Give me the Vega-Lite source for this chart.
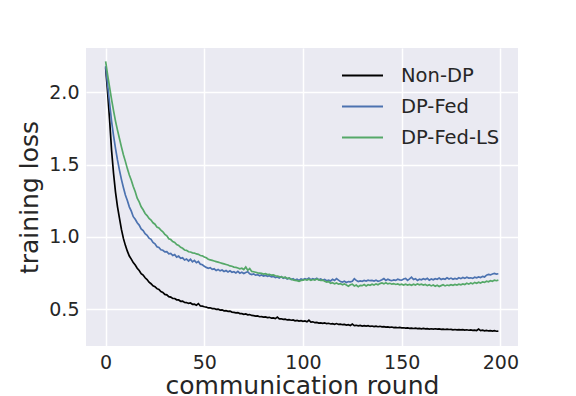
{
"$schema": "https://vega.github.io/schema/vega-lite/v6.json",
"width": 432, "height": 298,
"autosize": {"type": "none"},
"padding": {"left": 86, "top": 48, "right": 58, "bottom": 50},
"background": "white",
"config": {
  "font": "DejaVu Sans",
  "view": {"fill": "#EAEAF2", "stroke": null},
  "axis": {"grid": true, "gridColor": "white", "gridWidth": 1.5, "domain": false, "ticks": false,
    "labelFontSize": 19, "labelColor": "#262626", "labelPadding": 7, "labelFont": "DejaVu Sans",
    "titleFontSize": 25, "titleColor": "#262626", "titleFontWeight": "normal", "titleFont": "DejaVu Sans"}
},
"data": {"values": [
{"r":0,"Non-DP":2.170,"DP-Fed":2.180,"DP-Fed-LS":2.212},
{"r":1,"Non-DP":2.000,"DP-Fed":2.050,"DP-Fed-LS":2.120},
{"r":2,"Non-DP":1.810,"DP-Fed":1.925,"DP-Fed-LS":2.035},
{"r":3,"Non-DP":1.600,"DP-Fed":1.800,"DP-Fed-LS":1.950},
{"r":4,"Non-DP":1.440,"DP-Fed":1.700,"DP-Fed-LS":1.872},
{"r":5,"Non-DP":1.310,"DP-Fed":1.612,"DP-Fed-LS":1.800},
{"r":6,"Non-DP":1.210,"DP-Fed":1.532,"DP-Fed-LS":1.738},
{"r":7,"Non-DP":1.130,"DP-Fed":1.462,"DP-Fed-LS":1.680},
{"r":8,"Non-DP":1.052,"DP-Fed":1.398,"DP-Fed-LS":1.622},
{"r":9,"Non-DP":0.990,"DP-Fed":1.342,"DP-Fed-LS":1.568},
{"r":10,"Non-DP":0.942,"DP-Fed":1.290,"DP-Fed-LS":1.522},
{"r":11,"Non-DP":0.902,"DP-Fed":1.252,"DP-Fed-LS":1.472},
{"r":12,"Non-DP":0.868,"DP-Fed":1.208,"DP-Fed-LS":1.428},
{"r":13,"Non-DP":0.847,"DP-Fed":1.178,"DP-Fed-LS":1.392},
{"r":14,"Non-DP":0.823,"DP-Fed":1.140,"DP-Fed-LS":1.348},
{"r":15,"Non-DP":0.806,"DP-Fed":1.122,"DP-Fed-LS":1.312},
{"r":16,"Non-DP":0.784,"DP-Fed":1.098,"DP-Fed-LS":1.268},
{"r":17,"Non-DP":0.768,"DP-Fed":1.082,"DP-Fed-LS":1.242},
{"r":18,"Non-DP":0.747,"DP-Fed":1.056,"DP-Fed-LS":1.208},
{"r":19,"Non-DP":0.737,"DP-Fed":1.044,"DP-Fed-LS":1.188},
{"r":20,"Non-DP":0.718,"DP-Fed":1.022,"DP-Fed-LS":1.162},
{"r":21,"Non-DP":0.706,"DP-Fed":1.012,"DP-Fed-LS":1.148},
{"r":22,"Non-DP":0.688,"DP-Fed":0.992,"DP-Fed-LS":1.128},
{"r":23,"Non-DP":0.677,"DP-Fed":0.984,"DP-Fed-LS":1.117},
{"r":24,"Non-DP":0.663,"DP-Fed":0.962,"DP-Fed-LS":1.098},
{"r":25,"Non-DP":0.657,"DP-Fed":0.953,"DP-Fed-LS":1.088},
{"r":26,"Non-DP":0.643,"DP-Fed":0.932,"DP-Fed-LS":1.068},
{"r":27,"Non-DP":0.637,"DP-Fed":0.928,"DP-Fed-LS":1.062},
{"r":28,"Non-DP":0.623,"DP-Fed":0.912,"DP-Fed-LS":1.048},
{"r":29,"Non-DP":0.617,"DP-Fed":0.908,"DP-Fed-LS":1.036},
{"r":30,"Non-DP":0.603,"DP-Fed":0.897,"DP-Fed-LS":1.018},
{"r":31,"Non-DP":0.600,"DP-Fed":0.898,"DP-Fed-LS":1.008},
{"r":32,"Non-DP":0.588,"DP-Fed":0.884,"DP-Fed-LS":0.988},
{"r":33,"Non-DP":0.585,"DP-Fed":0.886,"DP-Fed-LS":0.982},
{"r":34,"Non-DP":0.576,"DP-Fed":0.872,"DP-Fed-LS":0.968},
{"r":35,"Non-DP":0.575,"DP-Fed":0.878,"DP-Fed-LS":0.962},
{"r":36,"Non-DP":0.566,"DP-Fed":0.861,"DP-Fed-LS":0.948},
{"r":37,"Non-DP":0.565,"DP-Fed":0.868,"DP-Fed-LS":0.942},
{"r":38,"Non-DP":0.556,"DP-Fed":0.852,"DP-Fed-LS":0.928},
{"r":39,"Non-DP":0.557,"DP-Fed":0.856,"DP-Fed-LS":0.922},
{"r":40,"Non-DP":0.548,"DP-Fed":0.841,"DP-Fed-LS":0.910},
{"r":41,"Non-DP":0.547,"DP-Fed":0.848,"DP-Fed-LS":0.908},
{"r":42,"Non-DP":0.541,"DP-Fed":0.834,"DP-Fed-LS":0.898},
{"r":43,"Non-DP":0.544,"DP-Fed":0.846,"DP-Fed-LS":0.896},
{"r":44,"Non-DP":0.535,"DP-Fed":0.828,"DP-Fed-LS":0.890},
{"r":45,"Non-DP":0.536,"DP-Fed":0.838,"DP-Fed-LS":0.889},
{"r":46,"Non-DP":0.529,"DP-Fed":0.822,"DP-Fed-LS":0.883},
{"r":47,"Non-DP":0.540,"DP-Fed":0.831,"DP-Fed-LS":0.880},
{"r":48,"Non-DP":0.523,"DP-Fed":0.812,"DP-Fed-LS":0.872},
{"r":49,"Non-DP":0.522,"DP-Fed":0.808,"DP-Fed-LS":0.870},
{"r":50,"Non-DP":0.518,"DP-Fed":0.798,"DP-Fed-LS":0.862},
{"r":51,"Non-DP":0.516,"DP-Fed":0.790,"DP-Fed-LS":0.856},
{"r":52,"Non-DP":0.510,"DP-Fed":0.784,"DP-Fed-LS":0.846},
{"r":53,"Non-DP":0.511,"DP-Fed":0.788,"DP-Fed-LS":0.842},
{"r":54,"Non-DP":0.505,"DP-Fed":0.776,"DP-Fed-LS":0.838},
{"r":55,"Non-DP":0.506,"DP-Fed":0.780,"DP-Fed-LS":0.834},
{"r":56,"Non-DP":0.500,"DP-Fed":0.768,"DP-Fed-LS":0.830},
{"r":57,"Non-DP":0.502,"DP-Fed":0.776,"DP-Fed-LS":0.826},
{"r":58,"Non-DP":0.495,"DP-Fed":0.766,"DP-Fed-LS":0.822},
{"r":59,"Non-DP":0.497,"DP-Fed":0.772,"DP-Fed-LS":0.818},
{"r":60,"Non-DP":0.490,"DP-Fed":0.762,"DP-Fed-LS":0.814},
{"r":61,"Non-DP":0.491,"DP-Fed":0.768,"DP-Fed-LS":0.810},
{"r":62,"Non-DP":0.486,"DP-Fed":0.758,"DP-Fed-LS":0.806},
{"r":63,"Non-DP":0.488,"DP-Fed":0.766,"DP-Fed-LS":0.800},
{"r":64,"Non-DP":0.481,"DP-Fed":0.756,"DP-Fed-LS":0.798},
{"r":65,"Non-DP":0.479,"DP-Fed":0.760,"DP-Fed-LS":0.792},
{"r":66,"Non-DP":0.476,"DP-Fed":0.752,"DP-Fed-LS":0.790},
{"r":67,"Non-DP":0.478,"DP-Fed":0.762,"DP-Fed-LS":0.786},
{"r":68,"Non-DP":0.471,"DP-Fed":0.750,"DP-Fed-LS":0.780},
{"r":69,"Non-DP":0.470,"DP-Fed":0.756,"DP-Fed-LS":0.784},
{"r":70,"Non-DP":0.466,"DP-Fed":0.748,"DP-Fed-LS":0.775},
{"r":71,"Non-DP":0.468,"DP-Fed":0.755,"DP-Fed-LS":0.792},
{"r":72,"Non-DP":0.462,"DP-Fed":0.760,"DP-Fed-LS":0.770},
{"r":73,"Non-DP":0.464,"DP-Fed":0.746,"DP-Fed-LS":0.782},
{"r":74,"Non-DP":0.458,"DP-Fed":0.740,"DP-Fed-LS":0.762},
{"r":75,"Non-DP":0.457,"DP-Fed":0.744,"DP-Fed-LS":0.760},
{"r":76,"Non-DP":0.453,"DP-Fed":0.736,"DP-Fed-LS":0.756},
{"r":77,"Non-DP":0.455,"DP-Fed":0.740,"DP-Fed-LS":0.752},
{"r":78,"Non-DP":0.449,"DP-Fed":0.732,"DP-Fed-LS":0.750},
{"r":79,"Non-DP":0.450,"DP-Fed":0.738,"DP-Fed-LS":0.748},
{"r":80,"Non-DP":0.446,"DP-Fed":0.730,"DP-Fed-LS":0.744},
{"r":81,"Non-DP":0.448,"DP-Fed":0.735,"DP-Fed-LS":0.746},
{"r":82,"Non-DP":0.443,"DP-Fed":0.728,"DP-Fed-LS":0.740},
{"r":83,"Non-DP":0.445,"DP-Fed":0.732,"DP-Fed-LS":0.742},
{"r":84,"Non-DP":0.439,"DP-Fed":0.724,"DP-Fed-LS":0.736},
{"r":85,"Non-DP":0.441,"DP-Fed":0.728,"DP-Fed-LS":0.738},
{"r":86,"Non-DP":0.436,"DP-Fed":0.720,"DP-Fed-LS":0.732},
{"r":87,"Non-DP":0.446,"DP-Fed":0.724,"DP-Fed-LS":0.730},
{"r":88,"Non-DP":0.434,"DP-Fed":0.716,"DP-Fed-LS":0.726},
{"r":89,"Non-DP":0.435,"DP-Fed":0.726,"DP-Fed-LS":0.724},
{"r":90,"Non-DP":0.431,"DP-Fed":0.714,"DP-Fed-LS":0.720},
{"r":91,"Non-DP":0.432,"DP-Fed":0.720,"DP-Fed-LS":0.722},
{"r":92,"Non-DP":0.427,"DP-Fed":0.710,"DP-Fed-LS":0.714},
{"r":93,"Non-DP":0.429,"DP-Fed":0.716,"DP-Fed-LS":0.716},
{"r":94,"Non-DP":0.425,"DP-Fed":0.706,"DP-Fed-LS":0.708},
{"r":95,"Non-DP":0.427,"DP-Fed":0.712,"DP-Fed-LS":0.704},
{"r":96,"Non-DP":0.421,"DP-Fed":0.702,"DP-Fed-LS":0.700},
{"r":97,"Non-DP":0.424,"DP-Fed":0.708,"DP-Fed-LS":0.698},
{"r":98,"Non-DP":0.419,"DP-Fed":0.700,"DP-Fed-LS":0.694},
{"r":99,"Non-DP":0.422,"DP-Fed":0.710,"DP-Fed-LS":0.700},
{"r":100,"Non-DP":0.417,"DP-Fed":0.704,"DP-Fed-LS":0.702},
{"r":101,"Non-DP":0.420,"DP-Fed":0.712,"DP-Fed-LS":0.706},
{"r":102,"Non-DP":0.414,"DP-Fed":0.706,"DP-Fed-LS":0.702},
{"r":103,"Non-DP":0.425,"DP-Fed":0.716,"DP-Fed-LS":0.708},
{"r":104,"Non-DP":0.412,"DP-Fed":0.704,"DP-Fed-LS":0.700},
{"r":105,"Non-DP":0.414,"DP-Fed":0.712,"DP-Fed-LS":0.706},
{"r":106,"Non-DP":0.408,"DP-Fed":0.706,"DP-Fed-LS":0.702},
{"r":107,"Non-DP":0.410,"DP-Fed":0.714,"DP-Fed-LS":0.710},
{"r":108,"Non-DP":0.405,"DP-Fed":0.704,"DP-Fed-LS":0.704},
{"r":109,"Non-DP":0.407,"DP-Fed":0.710,"DP-Fed-LS":0.700},
{"r":110,"Non-DP":0.403,"DP-Fed":0.702,"DP-Fed-LS":0.702},
{"r":111,"Non-DP":0.406,"DP-Fed":0.706,"DP-Fed-LS":0.694},
{"r":112,"Non-DP":0.401,"DP-Fed":0.698,"DP-Fed-LS":0.688},
{"r":113,"Non-DP":0.404,"DP-Fed":0.702,"DP-Fed-LS":0.692},
{"r":114,"Non-DP":0.399,"DP-Fed":0.696,"DP-Fed-LS":0.680},
{"r":115,"Non-DP":0.401,"DP-Fed":0.708,"DP-Fed-LS":0.684},
{"r":116,"Non-DP":0.397,"DP-Fed":0.700,"DP-Fed-LS":0.676},
{"r":117,"Non-DP":0.402,"DP-Fed":0.712,"DP-Fed-LS":0.682},
{"r":118,"Non-DP":0.396,"DP-Fed":0.702,"DP-Fed-LS":0.674},
{"r":119,"Non-DP":0.398,"DP-Fed":0.692,"DP-Fed-LS":0.678},
{"r":120,"Non-DP":0.394,"DP-Fed":0.688,"DP-Fed-LS":0.670},
{"r":121,"Non-DP":0.396,"DP-Fed":0.694,"DP-Fed-LS":0.676},
{"r":122,"Non-DP":0.391,"DP-Fed":0.686,"DP-Fed-LS":0.668},
{"r":123,"Non-DP":0.394,"DP-Fed":0.692,"DP-Fed-LS":0.660},
{"r":124,"Non-DP":0.389,"DP-Fed":0.690,"DP-Fed-LS":0.670},
{"r":125,"Non-DP":0.398,"DP-Fed":0.694,"DP-Fed-LS":0.674},
{"r":126,"Non-DP":0.388,"DP-Fed":0.712,"DP-Fed-LS":0.662},
{"r":127,"Non-DP":0.390,"DP-Fed":0.700,"DP-Fed-LS":0.668},
{"r":128,"Non-DP":0.386,"DP-Fed":0.692,"DP-Fed-LS":0.656},
{"r":129,"Non-DP":0.389,"DP-Fed":0.696,"DP-Fed-LS":0.666},
{"r":130,"Non-DP":0.385,"DP-Fed":0.694,"DP-Fed-LS":0.664},
{"r":131,"Non-DP":0.388,"DP-Fed":0.700,"DP-Fed-LS":0.672},
{"r":132,"Non-DP":0.384,"DP-Fed":0.696,"DP-Fed-LS":0.662},
{"r":133,"Non-DP":0.387,"DP-Fed":0.702,"DP-Fed-LS":0.670},
{"r":134,"Non-DP":0.382,"DP-Fed":0.698,"DP-Fed-LS":0.666},
{"r":135,"Non-DP":0.385,"DP-Fed":0.700,"DP-Fed-LS":0.674},
{"r":136,"Non-DP":0.381,"DP-Fed":0.696,"DP-Fed-LS":0.668},
{"r":137,"Non-DP":0.384,"DP-Fed":0.702,"DP-Fed-LS":0.676},
{"r":138,"Non-DP":0.380,"DP-Fed":0.694,"DP-Fed-LS":0.670},
{"r":139,"Non-DP":0.383,"DP-Fed":0.698,"DP-Fed-LS":0.678},
{"r":140,"Non-DP":0.379,"DP-Fed":0.704,"DP-Fed-LS":0.682},
{"r":141,"Non-DP":0.381,"DP-Fed":0.712,"DP-Fed-LS":0.676},
{"r":142,"Non-DP":0.377,"DP-Fed":0.700,"DP-Fed-LS":0.684},
{"r":143,"Non-DP":0.379,"DP-Fed":0.708,"DP-Fed-LS":0.676},
{"r":144,"Non-DP":0.376,"DP-Fed":0.702,"DP-Fed-LS":0.680},
{"r":145,"Non-DP":0.378,"DP-Fed":0.698,"DP-Fed-LS":0.674},
{"r":146,"Non-DP":0.374,"DP-Fed":0.704,"DP-Fed-LS":0.678},
{"r":147,"Non-DP":0.376,"DP-Fed":0.700,"DP-Fed-LS":0.672},
{"r":148,"Non-DP":0.373,"DP-Fed":0.708,"DP-Fed-LS":0.676},
{"r":149,"Non-DP":0.375,"DP-Fed":0.704,"DP-Fed-LS":0.670},
{"r":150,"Non-DP":0.372,"DP-Fed":0.702,"DP-Fed-LS":0.674},
{"r":151,"Non-DP":0.373,"DP-Fed":0.710,"DP-Fed-LS":0.668},
{"r":152,"Non-DP":0.370,"DP-Fed":0.714,"DP-Fed-LS":0.674},
{"r":153,"Non-DP":0.372,"DP-Fed":0.700,"DP-Fed-LS":0.668},
{"r":154,"Non-DP":0.369,"DP-Fed":0.710,"DP-Fed-LS":0.672},
{"r":155,"Non-DP":0.371,"DP-Fed":0.722,"DP-Fed-LS":0.666},
{"r":156,"Non-DP":0.368,"DP-Fed":0.706,"DP-Fed-LS":0.674},
{"r":157,"Non-DP":0.370,"DP-Fed":0.712,"DP-Fed-LS":0.668},
{"r":158,"Non-DP":0.367,"DP-Fed":0.700,"DP-Fed-LS":0.676},
{"r":159,"Non-DP":0.369,"DP-Fed":0.708,"DP-Fed-LS":0.670},
{"r":160,"Non-DP":0.366,"DP-Fed":0.704,"DP-Fed-LS":0.674},
{"r":161,"Non-DP":0.368,"DP-Fed":0.712,"DP-Fed-LS":0.668},
{"r":162,"Non-DP":0.365,"DP-Fed":0.706,"DP-Fed-LS":0.672},
{"r":163,"Non-DP":0.367,"DP-Fed":0.714,"DP-Fed-LS":0.664},
{"r":164,"Non-DP":0.364,"DP-Fed":0.702,"DP-Fed-LS":0.670},
{"r":165,"Non-DP":0.366,"DP-Fed":0.710,"DP-Fed-LS":0.662},
{"r":166,"Non-DP":0.364,"DP-Fed":0.704,"DP-Fed-LS":0.668},
{"r":167,"Non-DP":0.366,"DP-Fed":0.712,"DP-Fed-LS":0.660},
{"r":168,"Non-DP":0.363,"DP-Fed":0.708,"DP-Fed-LS":0.666},
{"r":169,"Non-DP":0.365,"DP-Fed":0.716,"DP-Fed-LS":0.658},
{"r":170,"Non-DP":0.362,"DP-Fed":0.706,"DP-Fed-LS":0.664},
{"r":171,"Non-DP":0.364,"DP-Fed":0.712,"DP-Fed-LS":0.670},
{"r":172,"Non-DP":0.361,"DP-Fed":0.708,"DP-Fed-LS":0.662},
{"r":173,"Non-DP":0.363,"DP-Fed":0.718,"DP-Fed-LS":0.668},
{"r":174,"Non-DP":0.361,"DP-Fed":0.710,"DP-Fed-LS":0.664},
{"r":175,"Non-DP":0.362,"DP-Fed":0.716,"DP-Fed-LS":0.670},
{"r":176,"Non-DP":0.359,"DP-Fed":0.708,"DP-Fed-LS":0.666},
{"r":177,"Non-DP":0.361,"DP-Fed":0.714,"DP-Fed-LS":0.672},
{"r":178,"Non-DP":0.358,"DP-Fed":0.710,"DP-Fed-LS":0.668},
{"r":179,"Non-DP":0.360,"DP-Fed":0.718,"DP-Fed-LS":0.674},
{"r":180,"Non-DP":0.358,"DP-Fed":0.712,"DP-Fed-LS":0.670},
{"r":181,"Non-DP":0.360,"DP-Fed":0.720,"DP-Fed-LS":0.676},
{"r":182,"Non-DP":0.357,"DP-Fed":0.714,"DP-Fed-LS":0.672},
{"r":183,"Non-DP":0.359,"DP-Fed":0.722,"DP-Fed-LS":0.680},
{"r":184,"Non-DP":0.356,"DP-Fed":0.716,"DP-Fed-LS":0.674},
{"r":185,"Non-DP":0.358,"DP-Fed":0.718,"DP-Fed-LS":0.682},
{"r":186,"Non-DP":0.355,"DP-Fed":0.714,"DP-Fed-LS":0.676},
{"r":187,"Non-DP":0.357,"DP-Fed":0.722,"DP-Fed-LS":0.686},
{"r":188,"Non-DP":0.354,"DP-Fed":0.718,"DP-Fed-LS":0.680},
{"r":189,"Non-DP":0.364,"DP-Fed":0.724,"DP-Fed-LS":0.688},
{"r":190,"Non-DP":0.353,"DP-Fed":0.720,"DP-Fed-LS":0.682},
{"r":191,"Non-DP":0.356,"DP-Fed":0.728,"DP-Fed-LS":0.690},
{"r":192,"Non-DP":0.352,"DP-Fed":0.724,"DP-Fed-LS":0.686},
{"r":193,"Non-DP":0.355,"DP-Fed":0.736,"DP-Fed-LS":0.694},
{"r":194,"Non-DP":0.351,"DP-Fed":0.742,"DP-Fed-LS":0.690},
{"r":195,"Non-DP":0.353,"DP-Fed":0.738,"DP-Fed-LS":0.698},
{"r":196,"Non-DP":0.350,"DP-Fed":0.744,"DP-Fed-LS":0.694},
{"r":197,"Non-DP":0.353,"DP-Fed":0.748,"DP-Fed-LS":0.702},
{"r":198,"Non-DP":0.349,"DP-Fed":0.744,"DP-Fed-LS":0.698},
{"r":199,"Non-DP":0.350,"DP-Fed":0.746,"DP-Fed-LS":0.702}
]},
"transform": [{"fold": ["Non-DP", "DP-Fed", "DP-Fed-LS"], "as": ["method", "loss"]}],
"mark": {"type": "line", "strokeWidth": 1.7, "clip": true},
"encoding": {
  "x": {"field": "r", "type": "quantitative",
    "scale": {"domain": [-9.95, 208.95], "nice": false, "zero": false},
    "axis": {"values": [0, 50, 100, 150, 200], "title": "communication round", "titlePadding": 1}},
  "y": {"field": "loss", "type": "quantitative",
    "scale": {"domain": [0.247, 2.305], "nice": false, "zero": false},
    "axis": {"values": [0.5, 1.0, 1.5, 2.0], "format": ".1f", "title": "training loss", "titlePadding": 6}},
  "color": {"field": "method", "type": "nominal",
    "scale": {"domain": ["Non-DP", "DP-Fed", "DP-Fed-LS"], "range": ["#000000", "#4C72B0", "#55A868"]},
    "legend": {"title": null, "orient": "none", "legendX": 255, "legendY": 6,
      "symbolType": "stroke", "symbolSize": 1681, "symbolStrokeWidth": 2,
      "labelFontSize": 19.5, "labelColor": "#262626", "labelOffset": 17, "rowPadding": -13}}
}
}
